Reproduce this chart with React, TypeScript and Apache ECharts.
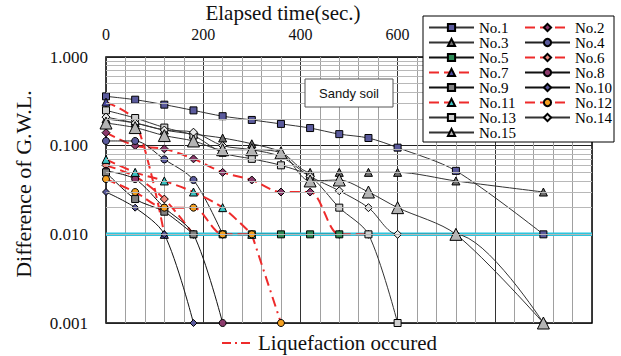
import React, { useEffect, useRef } from "react";
import * as echarts from "echarts";

const times = [0, 60, 120, 180, 240, 300, 360, 420, 480, 540, 600, 720, 900];
const no1 = [0.36, 0.33, 0.29, 0.25, 0.215, 0.195, 0.176, 0.158, 0.135, 0.122, 0.095, 0.052, 0.01];
const no2 = [0.14, 0.1, 0.092, 0.071, 0.05, 0.041, 0.03, 0.03, 0.01, 0.01, null, null, null];
const no3 = [0.2, 0.18, 0.15, 0.135, 0.122, 0.105, 0.085, 0.05, 0.05, 0.05, 0.05, 0.04, 0.03];
const no4 = [0.113, 0.113, 0.07, 0.041, 0.01, null, null, null, null, null, null, null, null];
const no5 = [null, null, null, null, 0.01, 0.01, 0.01, 0.01, 0.01, null, null, null, null];
const no6 = [0.06, 0.045, 0.025, 0.01, null, null, null, null, null, null, null, null, null];
const no7 = [0.31, 0.19, 0.01, null, null, null, null, null, null, null, null, null, null];
const no8 = [0.052, 0.042, 0.02, 0.01, 0.001, null, null, null, null, null, null, null, null];
const no9 = [0.05, 0.025, 0.018, 0.01, null, null, null, null, null, null, null, null, null];
const no10 = [0.03, 0.02, 0.01, 0.001, null, null, null, null, null, null, null, null, null];
const no11 = [0.07, 0.05, 0.04, 0.03, 0.02, 0.01, null, null, null, null, null, null, null];
const no12 = [0.042, 0.03, 0.02, 0.02, 0.01, 0.01, null, null, null, null, null, null, null];
const no12Liquefaction = [null, null, null, null, null, 0.01, 0.001, null, null, null, null, null, null];
const no13 = [0.25, 0.205, 0.16, 0.13, 0.083, 0.071, 0.06, 0.045, 0.02, 0.01, 0.001, null, null];
const no14 = [0.21, 0.18, 0.15, 0.142, 0.1, 0.09, 0.075, 0.045, 0.031, 0.02, 0.01, 0.01, 0.001];
const no15 = [0.18, 0.16, 0.13, 0.113, 0.09, 0.09, 0.083, 0.04, 0.041, 0.03, 0.02, 0.01, 0.001];

const detectionLimit = 0.01;
const minorLevels = [0.002, 0.003, 0.004, 0.005, 0.006, 0.007, 0.008, 0.009,
  0.02, 0.03, 0.04, 0.05, 0.06, 0.07, 0.08, 0.09,
  0.2, 0.3, 0.4, 0.5, 0.6, 0.7, 0.8, 0.9];
const xTickLabels = [0, 200, 400, 600];
const legendLeftCol = ["No.1", "No.3", "No.5", "No.7", "No.9", "No.11", "No.13", "No.15"];
const legendRightCol = ["No.2", "No.4", "No.6", "No.8", "No.10", "No.12", "No.14"];

const SERIF = "Liberation Serif";
const RED = "#ee2b2b";

function pts(arr: (number | null)[]) {
  const out: [number, number][] = [];
  arr.forEach((v, i) => {
    if (v !== null) out.push([times[i], v]);
  });
  return out;
}

type Opt = { symbol: string; size: number; color: string; dashed?: boolean; lineColor?: string };

function mk(name: string, arr: (number | null)[], o: Opt) {
  return {
    name,
    type: "line",
    data: pts(arr),
    smooth: 0.3,
    symbol: o.symbol,
    symbolSize: o.size,
    showAllSymbol: true,
    itemStyle: { color: o.color, borderColor: "#000", borderWidth: 1 },
    lineStyle: o.dashed
      ? { color: RED, width: 2, type: [10, 5] }
      : { color: o.lineColor || "#222", width: 1, type: "solid" },
    emphasis: { disabled: true },
    z: 3,
  };
}

export default function App() {
  const ref = useRef<HTMLDivElement>(null);
  useEffect(() => {
    document.body.style.margin = "0";
    const chart = echarts.init(ref.current!, null, { renderer: "svg" });
    const series: any[] = [
      {
        name: "limit",
        type: "line",
        data: [[0, detectionLimit], [1000, detectionLimit]],
        symbol: "none",
        lineStyle: { color: "#2cc6de", width: 3.5, opacity: 1 },
        emphasis: { disabled: true },
        z: 2,
        markLine: {
          silent: true,
          symbol: ["none", "none"],
          label: { show: false },
          lineStyle: { color: "#b8b8b8", width: 1, type: "solid" },
          data: minorLevels.map((v) => ({ yAxis: v })),
          animation: false,
        },
      },
      mk("No.1", no1, { symbol: "rect", size: 7, color: "#5a5a9c", lineColor: "#333" }),
      mk("No.2", no2, { symbol: "diamond", size: 8, color: "#8c3a6c", dashed: true }),
      mk("No.3", no3, { symbol: "triangle", size: 8, color: "#6e6e6e", lineColor: "#333" }),
      mk("No.4", no4, { symbol: "circle", size: 7, color: "#5a5a9c", lineColor: "#222" }),
      mk("No.5", no5, { symbol: "rect", size: 7, color: "#2e8b57", lineColor: "#111" }),
      mk("No.6", no6, { symbol: "diamond", size: 8, color: "#f08c80", dashed: true }),
      mk("No.7", no7, { symbol: "triangle", size: 8, color: "#4a4aa0", dashed: true }),
      mk("No.8", no8, { symbol: "circle", size: 7, color: "#8c3a6c", lineColor: "#111" }),
      mk("No.9", no9, { symbol: "rect", size: 7, color: "#808080", lineColor: "#111" }),
      mk("No.10", no10, { symbol: "diamond", size: 7, color: "#5a5a9c", lineColor: "#111" }),
      mk("No.11", no11, { symbol: "triangle", size: 8, color: "#3cc4c4", dashed: true }),
      mk("No.12", no12, { symbol: "circle", size: 7, color: "#f5a020", dashed: true }),
      {
        name: "liq",
        type: "line",
        data: pts(no12Liquefaction).map((p, i) => ({ value: p, symbol: i === 0 ? "none" : "circle" })),
        symbolSize: 7,
        itemStyle: { color: "#f5a020", borderColor: "#000", borderWidth: 1 },
        lineStyle: { color: RED, width: 2, type: [10, 5, 2, 5] },
        emphasis: { disabled: true },
        z: 3,
      },
      mk("No.13", no13, { symbol: "rect", size: 7, color: "#cfcfcf", lineColor: "#333" }),
      mk("No.14", no14, { symbol: "diamond", size: 8, color: "#e8e8e8", lineColor: "#333" }),
      mk("No.15", no15, { symbol: "triangle", size: 12, color: "#b4b4b4", lineColor: "#333" }),
    ];

    const legendCommon = {
      orient: "vertical",
      itemWidth: 45,
      itemHeight: 9,
      itemGap: 0,
      padding: 0,
      selectedMode: false,
      z: 20,
      textStyle: { fontFamily: SERIF, fontSize: 15, color: "#000", lineHeight: 14 },
    };
    const legends = [
      ...legendLeftCol.map((n, i) => ({ ...legendCommon, left: 428, top: 20 + 15 * i, data: [n] })),
      ...legendRightCol.map((n, i) => ({ ...legendCommon, left: 524, top: 20 + 15 * i, data: [n] })),
    ];

    chart.setOption({
      animation: false,
      grid: { left: 106, top: 57, right: 29, bottom: 33, show: true, borderColor: "#000", borderWidth: 1.5, backgroundColor: "transparent" },
      xAxis: {
        type: "value",
        position: "top",
        min: 0,
        max: 1000,
        interval: 200,
        axisLine: { show: false },
        axisTick: { show: false },
        axisLabel: {
          margin: 16,
          fontFamily: SERIF,
          fontSize: 16,
          lineHeight: 14,
          color: "#111",
          formatter: (v: number) => (xTickLabels.includes(v) ? String(v) : ""),
        },
        splitLine: { show: true, lineStyle: { color: "#333", width: 1 } },
        minorTick: { show: false, splitNumber: 5 },
        minorSplitLine: { show: true, lineStyle: { color: "#a0a0a0", width: 1 } },
      },
      yAxis: {
        type: "log",
        logBase: 10,
        min: 0.001,
        max: 1,
        axisLine: { show: false },
        axisTick: { show: false },
        axisLabel: {
          margin: 18,
          fontFamily: SERIF,
          fontSize: 17,
          color: "#111",
          formatter: (v: number) => v.toFixed(3),
        },
        splitLine: { show: true, lineStyle: { color: "#222", width: 1 } },
      },
      legend: legends,
      graphic: [
        {
          type: "rect",
          z: 10,
          shape: { x: 423, y: 16, width: 191, height: 126 },
          style: { fill: "#fff", stroke: "#000", lineWidth: 1 },
        },
        {
          type: "rect",
          z: 10,
          shape: { x: 305, y: 79, width: 88, height: 28 },
          style: { fill: "#fff", stroke: "#555", lineWidth: 1 },
        },
        {
          type: "text",
          z: 11,
          x: 349,
          y: 93,
          style: { text: "Sandy soil", fontFamily: "Liberation Sans", fontSize: 13, fill: "#111", textAlign: "center", textVerticalAlign: "middle" },
        },
        {
          type: "text",
          z: 11,
          x: 283,
          y: 13,
          style: { text: "Elapsed time(sec.)", fontFamily: SERIF, fontSize: 21, fill: "#111", textAlign: "center", textVerticalAlign: "middle" },
        },
        {
          type: "text",
          z: 11,
          x: 23,
          y: 184,
          rotation: Math.PI / 2,
          style: { text: "Difference of G.W.L.", fontFamily: SERIF, fontSize: 22, fill: "#111", textAlign: "center", textVerticalAlign: "middle" },
        },
        {
          type: "line",
          z: 11,
          shape: { x1: 222, y1: 343, x2: 253, y2: 343 },
          style: { stroke: RED, lineWidth: 2, lineDash: [9, 4, 2, 4] },
        },
        {
          type: "text",
          z: 11,
          x: 258,
          y: 343,
          style: { text: "Liquefaction occured", fontFamily: SERIF, fontSize: 21, fill: "#111", textAlign: "left", textVerticalAlign: "middle" },
        },
      ],
      series,
    });
    return () => chart.dispose();
  }, []);
  return <div ref={ref} style={{ width: 621, height: 356 }} />;
}
